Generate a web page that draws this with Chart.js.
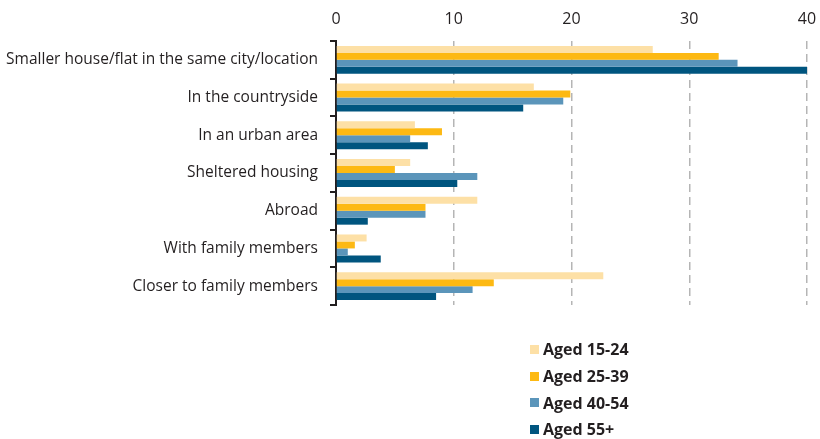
<!DOCTYPE html>
<html>
<head>
<meta charset="utf-8">
<script src="https://cdn.jsdelivr.net/npm/chart.js@4/dist/chart.umd.min.js"></script>
<style>
  html, body { margin: 0; padding: 0; background: #fff; }
  #wrap { position: relative; width: 820px; height: 439px; overflow: hidden; }
  #legend { position: absolute; left: 530px; top: 336px; font-family: "Open Sans", sans-serif; font-weight: 700; font-size: 16px; color: #231f20; }
  #legend .item { height: 26.7px; display: flex; align-items: center; }
  #legend .box { width: 9px; height: 9px; margin-right: 4px; }
</style>
</head>
<body>
<div id="wrap">
  <canvas id="c" width="820" height="439"></canvas>
  <div id="legend"></div>
</div>
<script>
const categories = [
  "Smaller house/flat in the same city/location",
  "In the countryside",
  "In an urban area",
  "Sheltered housing",
  "Abroad",
  "With family members",
  "Closer to family members"
];
const seriesNames = ["Aged 15-24", "Aged 25-39", "Aged 40-54", "Aged 55+"];
const aged15to24 = [26.9, 16.8, 6.7, 6.3, 12.0, 2.6, 22.7];
const aged25to39 = [32.5, 19.9, 9.0, 5.0, 7.6, 1.6, 13.4];
const aged40to54 = [34.1, 19.3, 6.3, 12.0, 7.6, 1.0, 11.6];
const aged55plus = [40.0, 15.9, 7.8, 10.3, 2.7, 3.8, 8.5];
const xTicks = [0, 10, 20, 30, 40];

const colors = ["#fde0a6", "#fdb913", "#5b95ba", "#00557f"];
const values = [aged15to24, aged25to39, aged40to54, aged55plus];
const textColor = "#231f20";

const chart = new Chart(document.getElementById("c"), {
  type: "bar",
  data: {
    labels: categories,
    datasets: seriesNames.map((name, i) => ({
      label: name,
      data: values[i],
      backgroundColor: colors[i],
      borderWidth: 0,
      categoryPercentage: 0.74,
      barPercentage: 1.0
    }))
  },
  options: {
    indexAxis: "y",
    responsive: false,
    animation: false,
    layout: { padding: { top: 0, right: 0, bottom: 134, left: 0 } },
    plugins: { legend: { display: false }, tooltip: { enabled: false } },
    scales: {
      x: {
        position: "top",
        min: 0,
        max: 40,
        afterBuildTicks: (axis) => { axis.ticks = xTicks.map(v => ({ value: v })); },
        afterFit: (axis) => { axis.height = 41; axis.paddingRight = 13; axis.paddingLeft = 0; },
        border: { display: false, dash: [8, 5] },
        grid: {
          color: (ctx) => ctx.tick && ctx.tick.value === 0 ? "rgba(0,0,0,0)" : "#b5b5b5",
          lineWidth: 1.5,
          drawTicks: false
        },
        ticks: {
          padding: 12,
          color: textColor,
          font: { family: "Open Sans", size: 16 }
        }
      },
      y: {
        afterFit: (axis) => { axis.width = 336; },
        border: { display: true, color: textColor, width: 2 },
        grid: {
          offset: true,
          drawOnChartArea: false,
          drawTicks: true,
          tickLength: 6,
          color: textColor,
          lineWidth: 2
        },
        ticks: {
          padding: 12,
          color: textColor,
          font: { family: "Open Sans", size: 15.5 }
        }
      }
    }
  }
});

// legend listed vertically below the plot
const legendEl = document.getElementById("legend");
chart.data.datasets.forEach(ds => {
  const item = document.createElement("div");
  item.className = "item";
  const box = document.createElement("span");
  box.className = "box";
  box.style.background = ds.backgroundColor;
  const label = document.createElement("span");
  label.textContent = ds.label;
  item.appendChild(box);
  item.appendChild(label);
  legendEl.appendChild(item);
});
</script>
</body>
</html>
